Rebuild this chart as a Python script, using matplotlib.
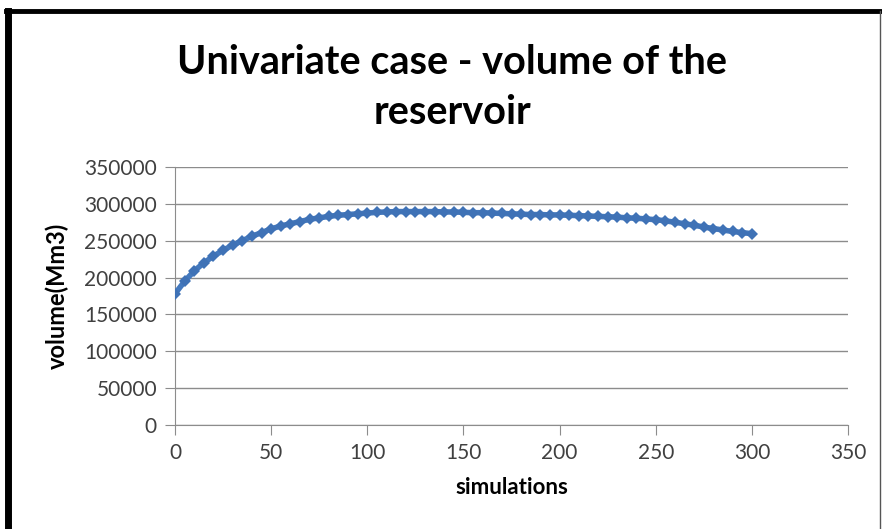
import matplotlib.pyplot as plt
from matplotlib.lines import Line2D

plt.rcParams['font.family'] = ['Lato', 'DejaVu Sans']

# volume of the reservoir, read every 5 simulations
sims = list(range(0, 305, 5))
volume = [178000, 195000, 209000, 220000, 229000, 237000, 244000, 250000,
          256000, 261000, 266000, 270000, 273000, 276000, 279000, 281000,
          283000, 284500, 285500, 286500, 287500, 288500, 289000, 289500,
          289500, 289500, 289500, 289500, 289000, 289000, 288500, 288000,
          288000, 287500, 287000, 286500, 286000, 285500, 285500, 285000,
          285000, 284500, 284000, 283500, 283000, 282500, 282000, 281000,
          280500, 279500, 278500, 277000, 275000, 273000, 271000, 268500,
          266500, 264500, 262500, 261000, 259500]

xticks = [0, 50, 100, 150, 200, 250, 300, 350]
yticks = [0, 50000, 100000, 150000, 200000, 250000, 300000, 350000]

fig = plt.figure(figsize=(8.82, 5.29), dpi=100)
W, H = 882, 529
ax = fig.add_axes([175 / W, 1 - 425 / H, (848 - 175) / W, (425 - 167) / H])

ax.plot(sims, volume, color='#4479BE', lw=4, marker='D', ms=6,
        markeredgewidth=0, markerfacecolor='#3F72B6', zorder=3)

ax.set_xlim(0, 350)
ax.set_ylim(0, 350000)
ax.set_xticks(xticks)
ax.set_yticks(yticks)
ax.set_yticklabels([str(v) for v in yticks])
ax.grid(axis='y', color='#8c8c8c', lw=1.0)
ax.set_axisbelow(True)
for s in ['top', 'right']:
    ax.spines[s].set_visible(False)
for s in ['left', 'bottom']:
    ax.spines[s].set_color('#8c8c8c')
ax.tick_params(axis='both', direction='out', length=7, color='#8c8c8c',
               labelsize=15, labelcolor='#404040', pad=6)

ax.set_xlabel('simulations', fontsize=16, fontweight='bold', labelpad=10)
ax.set_ylabel('volume(Mm3)', fontsize=17, fontweight='bold')
ax.yaxis.set_label_coords(-0.158, 0.5)

fig.text(452 / W, 1 - 63 / H, 'Univariate case - volume of the', ha='center',
         va='center', fontsize=28.5, fontweight='bold')
fig.text(452 / W, 1 - 113 / H, 'reservoir', ha='center', va='center',
         fontsize=28.5, fontweight='bold')

# outer frame of the chart
fig.add_artist(Line2D([8 / W, 8 / W], [0, 1 - 11 / H], transform=fig.transFigure,
                      color='black', lw=5))
fig.add_artist(Line2D([6 / W, 1], [1 - 11 / H, 1 - 11 / H], transform=fig.transFigure,
                      color='black', lw=3.5))
fig.add_artist(Line2D([880 / W, 880 / W], [0, 1 - 11 / H], transform=fig.transFigure,
                      color='#555555', lw=1))

fig.savefig('out.png', dpi=100)
